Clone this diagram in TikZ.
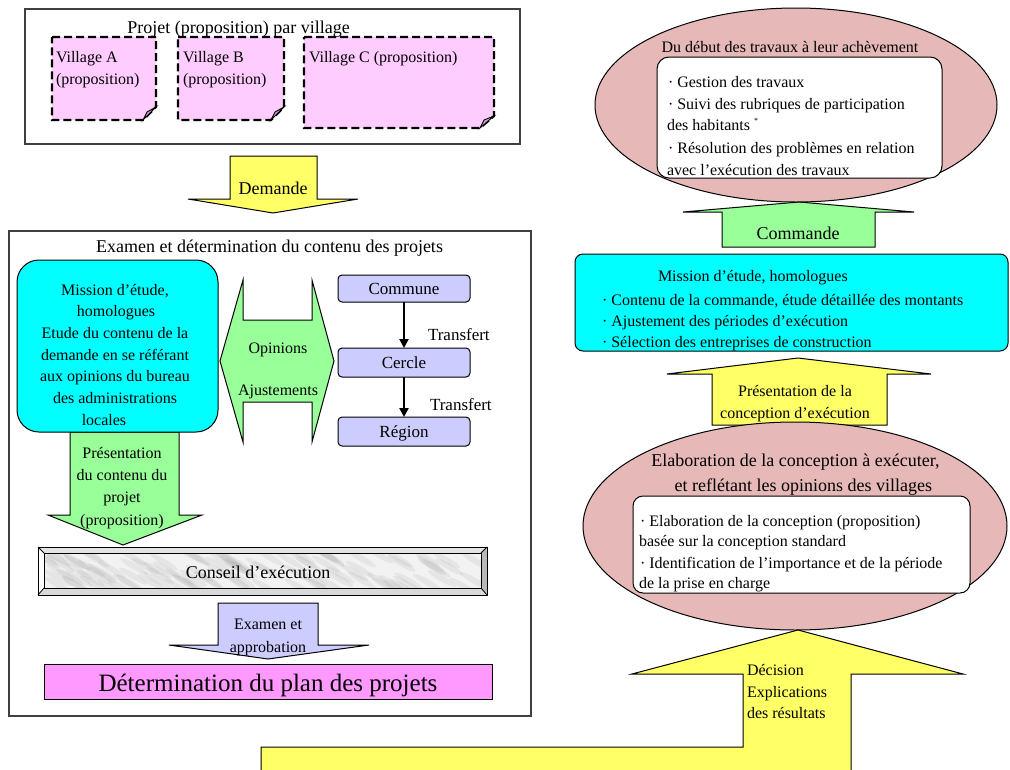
\documentclass[tikz,border=0pt]{standalone}
\usepackage{fontspec}
\setmainfont{Liberation Serif}
\usetikzlibrary{shapes.geometric,arrows.meta}
\definecolor{vpink}{HTML}{FFCCFF}
\definecolor{vfold}{HTML}{C9A2C9}
\definecolor{yel}{HTML}{FFFF66}
\definecolor{grn}{HTML}{99FF99}
\definecolor{cyn}{HTML}{00FFFF}
\definecolor{lav}{HTML}{CCCCFF}
\definecolor{mag}{HTML}{FF99FF}
\definecolor{rose}{HTML}{E6B9B8}
\begin{document}
\begin{tikzpicture}[x=1pt,y=-1pt,
  every node/.style={inner sep=0pt, outer sep=0pt},
  tb/.style={font=\fontsize{16}{16}\selectfont},
  tt/.style={font=\fontsize{18}{18}\selectfont},
  lw/.style={anchor=base west, tb},
  lc/.style={anchor=base, tb},
  tc/.style={anchor=base, tt},
  shp/.style={draw=black, line width=1pt},
  framebox/.style={draw=black!75, line width=1.3pt},
  vdash/.style={draw=black, line width=2.3pt, dash pattern=on 8pt off 4pt, fill=vpink},
  vfoldst/.style={draw=black, line width=0.9pt, fill=vfold},
  lavbox/.style={shp, fill=lav, rounded corners=4pt, minimum width=132pt, text height=12pt, text depth=0pt, font=\fontsize{17}{17}\selectfont},
  tarrow/.style={draw=black, line width=2.6pt, -{Triangle[length=9pt,width=9pt]}},
]
\clip (0,0) rectangle (1010,769);
\fill[white] (0,0) rectangle (1010,769);

% ---------------- top-left box -----------------
\node[framebox, minimum width=495pt, minimum height=135pt] (projbox) at (272.5,76.5) {};
\node[tc] (projtitle) at (238.5,33) {Projet (proposition) par village};
% Village A
\draw[vdash] (52,37) -- (156,37) -- (156,107) -- (143,120) -- (52,120) -- cycle;
\draw[vfoldst] (143,120) -- (147,112) -- (156,107) -- cycle;
\node[lw] (va1) at (56,62) {Village A};
\node[lw] (va2) at (56,84) {(proposition)};
% Village B
\draw[vdash] (178,37) -- (284,37) -- (284,107) -- (271,120) -- (178,120) -- cycle;
\draw[vfoldst] (271,120) -- (275,112) -- (284,107) -- cycle;
\node[lw] (vb1) at (183,62) {Village B};
\node[lw] (vb2) at (183,84) {(proposition)};
% Village C
\draw[vdash] (304,37) -- (494,37) -- (494,116) -- (480,128) -- (304,128) -- cycle;
\draw[vfoldst] (480,128) -- (484,120) -- (494,116) -- cycle;
\node[lw] (vc1) at (309,62) {Village C (proposition)};

% Demande arrow
\draw[shp, fill=yel] (230,156) -- (317,156) -- (317,199) -- (358,199) -- (273,213) -- (188,199) -- (230,199) -- cycle;
\node[tc] (demande) at (273,194) {Demande};

% ---------------- second left box -----------------
\node[framebox, minimum width=522pt, minimum height=485pt] (exambox) at (270,473.5) {};
\node[tc] (examtitle) at (269.5,252) {Examen et détermination du contenu des projets};

% green down arrow
\draw[shp, fill=grn] (70,432) -- (179,432) -- (179,515) -- (202,515) -- (123,545) -- (48,515) -- (70,515) -- cycle;
\node[lc] (p1) at (122,458) {Présentation};
\node[lc] (p2) at (122,480) {du contenu du};
\node[lc] (p3) at (122,502.5) {projet};
\node[lc] (p4) at (122,525) {(proposition)};

% cyan box 1
\node[shp, fill=cyn, rounded corners=22pt, minimum width=201pt, minimum height=172pt] (mission) at (117.5,346) {};
\node[lc] (m1) at (115,295) {Mission d’étude,};
\node[lc] (m2) at (116,316.7) {homologues};
\node[lc] (m3) at (115,338.4) {Etude du contenu de la};
\node[lc] (m4) at (115,360.1) {demande en se référant};
\node[lc] (m5) at (115,381.8) {aux opinions du bureau};
\node[lc] (m6) at (115,403.5) {des administrations};
\node[lc] (m7) at (104,425.2) {locales};

% double arrow
\draw[shp, fill=grn] (243,280) -- (243,320) -- (312,320) -- (312,280) -- (334,361) -- (312,442) -- (312,402) -- (243,402) -- (243,442) -- (220,361) -- cycle;
\node[lc] (opin) at (278,353) {Opinions};
\node[lc] (ajust) at (278,395) {Ajustements};

% Commune / Cercle / Region
\node[lavbox, minimum height=27pt] (commune) at (404,288.5) {Commune};
\node[lavbox, minimum height=29pt] (cercle) at (404,362.5) {Cercle};
\node[lavbox, minimum height=29pt] (region) at (404,431.5) {Région};
\draw[tarrow] (commune.south) -- (cercle.north);
\draw[tarrow] (cercle.south) -- (region.north);
\node[anchor=base west, font=\fontsize{17}{17}\selectfont] (tr1) at (428,340) {Transfert};
\node[anchor=base west, font=\fontsize{17}{17}\selectfont] (tr2) at (430,410) {Transfert};

% Conseil bar
\fill[white] (38,547) -- (44,553) -- (44,588) -- (38,595) -- cycle;
\fill[gray!22] (38,547) -- (487,547) -- (481,553) -- (44,553) -- cycle;
\fill[gray!30] (38,595) -- (44,588) -- (481,588) -- (487,595) -- cycle;
\fill[gray!55] (487,547) -- (481,553) -- (481,588) -- (487,595) -- cycle;
\begin{scope}
\clip (44,553) rectangle (481,588);
\fill[gray!10] (44,553) rectangle (481,588);
\pgfmathsetseed{7}
\foreach \i in {1,...,110}{
  \pgfmathsetmacro{\xx}{44+437*rnd}
  \pgfmathsetmacro{\yy}{553+35*rnd}
  \fill[gray!60, opacity=0.2, rotate around={-30:(\xx,\yy)}] (\xx,\yy) ellipse (16 and 3);
}
\end{scope}
\draw[black, line width=0.8pt] (38,547) -- (44,553) (487,547) -- (481,553) (38,595) -- (44,588) (487,595) -- (481,588);
\draw[black, line width=0.9pt] (44,553) rectangle (481,588);
\node[shp, fill=none, minimum width=449pt, minimum height=48pt] (conseil) at (262.5,571) {};
\node[tc] (conseiltxt) at (258,578) {Conseil d’exécution};

% Examen arrow
\draw[shp, fill=lav] (218,603) -- (318,603) -- (318,645) -- (369,645) -- (268,659) -- (169,645) -- (218,645) -- cycle;
\node[lc] (ex1) at (268,629) {Examen et};
\node[lc] (ex2) at (268,652.5) {approbation};

% plan box
\node[shp, fill=mag, minimum width=448pt, minimum height=35pt] (plan) at (268,681.5) {};
\node[anchor=base, font=\fontsize{25}{25}\selectfont] (plantxt) at (268,691.5) {Détermination du plan des projets};

% ---------------- right side -----------------
% Commande arrow
\draw[shp, fill=grn] (722,247) -- (722,212) -- (683,212) -- (799,202) -- (914,212) -- (875,212) -- (875,247) -- cycle;
\node[tc] (commande) at (798,239) {Commande};

% ellipse 1
\node[ellipse, shp, fill=rose, minimum width=402pt, minimum height=194pt] (ell1) at (796,105) {};
\node[lc] (e1t) at (790,52) {Du début des travaux à leur achèvement};
\node[shp, fill=white, rounded corners=12pt, minimum width=285pt, minimum height=121pt] (in1) at (799.5,117.5) {};
\node[lw] (g1) at (668,87.3) {· Gestion des travaux};
\node[lw] (g2) at (668,109) {· Suivi des rubriques de participation};
\node[lw] (g3) at (667,130.7) {des habitants {\fontsize{8}{8}\selectfont\raisebox{7pt}{*}}};
\node[lw] (g4) at (668,153.3) {· Résolution des problèmes en relation};
\node[lw] (g5) at (667,175.7) {avec l’exécution des travaux};

% cyan box 2
\node[shp, fill=cyn, rounded corners=8pt, minimum width=433pt, minimum height=97pt] (mission2) at (791.5,302.5) {};
\node[lw] (c1) at (658,281.7) {Mission d’étude, homologues};
\node[lw] (c2) at (602,305) {· Contenu de la commande, étude détaillée des montants};
\node[lw] (c3) at (602,326.7) {· Ajustement des périodes d’exécution};
\node[lw] (c4) at (602,347.3) {· Sélection des entreprises de construction};

% yellow arrow 2
\draw[shp, fill=yel] (712,425) -- (712,374) -- (667,374) -- (798,358) -- (931,374) -- (887,374) -- (887,425) -- cycle;
\node[lc] (pc1) at (795,396.7) {Présentation de la};
\node[lc] (pc2) at (795,418.3) {conception d’exécution};

% ellipse 2
\node[ellipse, shp, fill=rose, minimum width=424pt, minimum height=208pt] (ell2) at (795,526) {};
\node[tc] (e2t1) at (795.5,466.7) {Elaboration de la conception à exécuter,};
\node[tc] (e2t2) at (803.3,491.7) {et reflétant les opinions des villages};
\node[shp, fill=white, rounded corners=10pt, minimum width=337pt, minimum height=97pt] (in2) at (801.5,544.5) {};
\node[lw] (h1) at (640,526) {· Elaboration de la conception (proposition)};
\node[lw] (h2) at (639,546.7) {basée sur la conception standard};
\node[lw] (h3) at (640,568.3) {· Identification de l’importance et de la période};
\node[lw] (h4) at (639,588.3) {de la prise en charge};

% big L arrow
\draw[shp, fill=yel] (261,780) -- (261,747) -- (743,747) -- (743,674) -- (632,674) -- (798,630) -- (963,674) -- (851,674) -- (851,780);
\node[lw] (d1) at (747,675) {Décision};
\node[lw] (d2) at (747,697.3) {Explications};
\node[lw] (d3) at (747,718.3) {des résultats};
\end{tikzpicture}
\end{document}
